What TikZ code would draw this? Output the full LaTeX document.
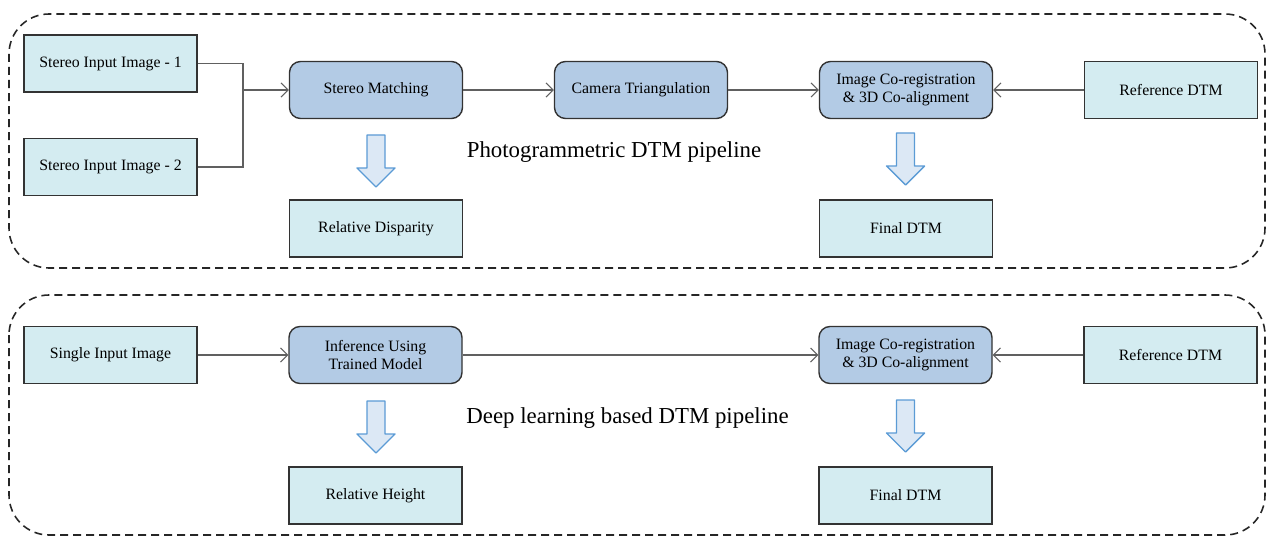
\documentclass[tikz,border=0pt]{standalone}
\usepackage{fontspec}
\setmainfont{Liberation Serif}
\usetikzlibrary{arrows.meta}

\definecolor{boxfill}{HTML}{D4ECF1}
\definecolor{procfill}{HTML}{B3CBE5}
\definecolor{arrfill}{HTML}{DCE8F5}
\definecolor{arrline}{HTML}{5B9BD5}
\definecolor{linkgray}{HTML}{606060}

\tikzset{
  databox/.style={draw=black!80, line width=0.8pt, fill=boxfill,
    minimum width=3.46cm, minimum height=1.14cm, align=center,
    font=\fontsize{9}{10.5}\selectfont},
  procbox/.style={databox, fill=procfill, rounded corners=0.22cm},
  link/.style={draw=linkgray, line width=0.6pt,
    -{Straight Barb[length=4pt,width=8pt]}},
  frame/.style={draw=black!85, line width=0.9pt,
    dash pattern=on 0.16cm off 0.1cm, rounded corners=0.8cm},
  pipetitle/.style={font=\fontsize{13}{15}\selectfont},
  downarrow/.pic={
    \draw[arrline, fill=arrfill, line width=0.8pt, line join=round]
      (-0.18,0) -- (0.18,0) -- (0.18,-0.66) -- (0.38,-0.66) -- (0,-1.04)
      -- (-0.38,-0.66) -- (-0.18,-0.66) -- cycle;
  }
}

\begin{document}
\begin{tikzpicture}[node distance=5.3cm]
  \useasboundingbox (0,0) rectangle (25.42,-10.74);

  % dashed pipeline frames
  \draw[frame] (0.18,-0.28) rectangle (25.30,-5.36);
  \draw[frame] (0.18,-5.90) rectangle (25.30,-10.70);

  % photogrammetric pipeline
  \node (in1) [databox] at (2.21,-1.27) {Stereo Input Image - 1};
  \node (in2) [databox, below of=in1, node distance=2.07cm] {Stereo Input Image - 2};
  \node (sm)  [procbox] at (7.52,-1.80) {Stereo Matching};
  \node (ct)  [procbox, right of=sm] {Camera Triangulation};
  \node (cr1) [procbox, right of=ct] {Image Co-registration\\\& 3D Co-alignment};
  \node (ref1) [databox, right of=cr1] {Reference DTM};
  \node (rd)  [databox, below of=sm, node distance=2.77cm] {Relative Disparity};
  \node (fd1) [databox, below of=cr1, node distance=2.77cm] {Final DTM};
  \node (t1)  [pipetitle] at (12.28,-3.05) {Photogrammetric DTM pipeline};

  \coordinate (jn) at (4.86,-1.80);
  \draw[draw=linkgray, line width=0.6pt] (in1.east) -| (jn);
  \draw[draw=linkgray, line width=0.6pt] (in2.east) -| (jn);
  \draw[link] (jn) -- (sm);
  \draw[link] (sm) -- (ct);
  \draw[link] (ct) -- (cr1);
  \draw[link] (ref1) -- (cr1);

  \pic at (7.52,-2.70) {downarrow};
  \pic at (18.11,-2.66) {downarrow};

  % deep learning pipeline
  \node (si)  [databox] at (2.21,-7.10) {Single Input Image};
  \node (inf) [procbox, right of=si] {Inference Using\\Trained Model};
  \node (cr2) [procbox, right of=inf, node distance=10.6cm] {Image Co-registration\\\& 3D Co-alignment};
  \node (ref2) [databox, right of=cr2] {Reference DTM};
  \node (rh)  [databox, below of=inf, node distance=2.81cm] {Relative Height};
  \node (fd2) [databox, below of=cr2, node distance=2.81cm] {Final DTM};
  \node (t2)  [pipetitle] at (12.55,-8.36) {Deep learning based DTM pipeline};

  \draw[link] (si) -- (inf);
  \draw[link] (inf) -- (cr2);
  \draw[link] (ref2) -- (cr2);

  \pic at (7.52,-8.02) {downarrow};
  \pic at (18.11,-8.00) {downarrow};
\end{tikzpicture}
\end{document}
